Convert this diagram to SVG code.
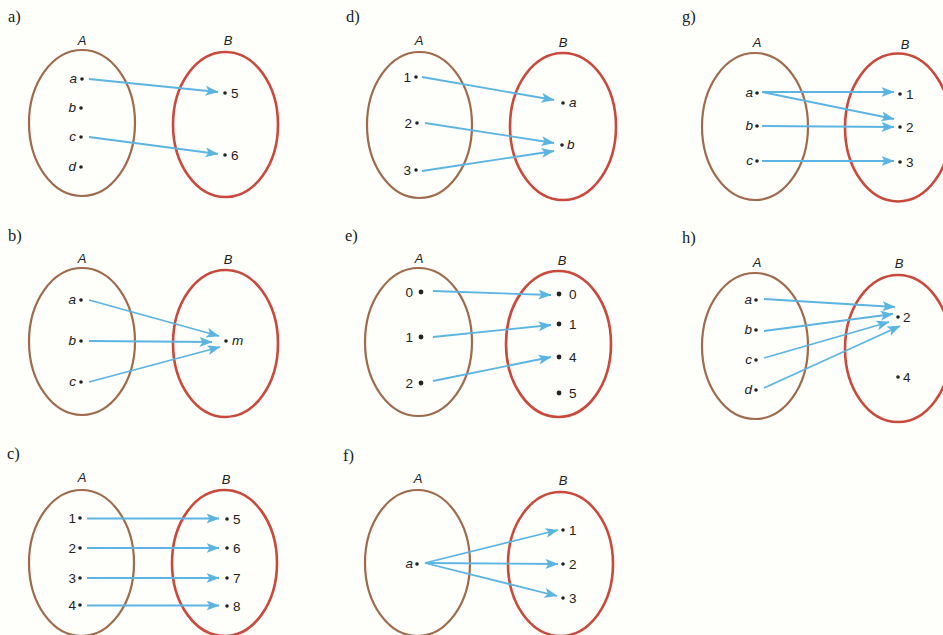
<svg xmlns="http://www.w3.org/2000/svg" width="943" height="635" viewBox="0 0 943 635">
<defs>
<style>
.bg{fill:#fefefa}
.setA{fill:none;stroke:#9e6b4c;stroke-width:2.2}
.setB{fill:none;stroke:#c94a3c;stroke-width:2.6}
.pl{font-family:"Liberation Serif",serif;font-size:16.5px;fill:#222}
.sl{font-family:"Liberation Sans",Arial,sans-serif;font-size:13px;font-style:italic;fill:#222;text-anchor:middle}
.el{font-family:"Liberation Sans",Arial,sans-serif;font-size:13.5px;fill:#222}
.it{font-style:italic}
.l{text-anchor:end}
.dot{fill:#222}
.arr{fill:none;stroke:#5bb4e2;stroke-width:1.8;marker-end:url(#ah)}
</style>
<marker id="ah" markerUnits="userSpaceOnUse" markerWidth="14" markerHeight="11" refX="12.5" refY="5" orient="auto">
<path d="M0,0 L13,5 L0,10 L3,5 z" fill="#5bb4e2"/>
</marker>
</defs>
<rect class="bg" x="0" y="0" width="943" height="635"/>

<!-- Panel a -->
<g id="panel-a">
<text class="pl" x="8" y="22">a)</text>
<g id="a-setA">
<text class="sl" x="82" y="45">A</text>
<ellipse class="setA" cx="82" cy="123" rx="53" ry="73"/>
<circle class="dot" cx="82" cy="79" r="1.8"/><text class="el it l" x="77" y="83">a</text>
<circle class="dot" cx="81" cy="108" r="1.8"/><text class="el it l" x="76" y="112">b</text>
<circle class="dot" cx="81" cy="137" r="1.8"/><text class="el it l" x="76" y="141">c</text>
<circle class="dot" cx="81" cy="167" r="1.8"/><text class="el it l" x="76" y="171">d</text>
</g>
<g id="a-setB">
<text class="sl" x="228" y="45">B</text>
<ellipse class="setB" cx="225.5" cy="124.5" rx="52.5" ry="72.5"/>
<circle class="dot" cx="225" cy="93" r="1.8"/><text class="el" x="231" y="97.5">5</text>
<circle class="dot" cx="225" cy="155" r="1.8"/><text class="el" x="231" y="159.5">6</text>
</g>
<g id="a-connectors">
<line class="arr" x1="89" y1="79" x2="218" y2="92"/>
<line class="arr" x1="89" y1="137" x2="218" y2="154"/>
</g>
</g>

<!-- Panel d -->
<g id="panel-d">
<text class="pl" x="346" y="22">d)</text>
<g id="d-setA">
<text class="sl" x="419" y="45">A</text>
<ellipse class="setA" cx="419.5" cy="125" rx="52.5" ry="73"/>
<circle class="dot" cx="416" cy="77" r="1.8"/><text class="el l" x="411" y="81.5">1</text>
<circle class="dot" cx="417" cy="123" r="1.8"/><text class="el l" x="412" y="127.5">2</text>
<circle class="dot" cx="416" cy="170" r="1.8"/><text class="el l" x="411" y="174.5">3</text>
</g>
<g id="d-setB">
<text class="sl" x="563" y="47">B</text>
<ellipse class="setB" cx="563" cy="126.5" rx="53" ry="73.5"/>
<circle class="dot" cx="563" cy="103" r="1.8"/><text class="el it" x="569" y="107">a</text>
<circle class="dot" cx="562" cy="145" r="1.8"/><text class="el it" x="567" y="149">b</text>
</g>
<g id="d-connectors">
<line class="arr" x1="422" y1="77" x2="554" y2="100"/>
<line class="arr" x1="425" y1="123" x2="554" y2="143"/>
<line class="arr" x1="422" y1="171" x2="554" y2="151"/>
</g>
</g>

<!-- Panel g -->
<g id="panel-g">
<text class="pl" x="682" y="22">g)</text>
<g id="g-setA">
<text class="sl" x="757" y="47">A</text>
<ellipse class="setA" cx="755" cy="126.5" rx="53" ry="73.5"/>
<circle class="dot" cx="757" cy="93" r="1.8"/><text class="el it l" x="753" y="97">a</text>
<circle class="dot" cx="757" cy="126" r="1.8"/><text class="el it l" x="753" y="130">b</text>
<circle class="dot" cx="757" cy="161" r="1.8"/><text class="el it l" x="753" y="165">c</text>
</g>
<g id="g-setB">
<text class="sl" x="905" y="49">B</text>
<ellipse class="setB" cx="898" cy="127.5" rx="53" ry="74"/>
<circle class="dot" cx="900" cy="94" r="1.8"/><text class="el" x="906" y="98.5">1</text>
<circle class="dot" cx="900" cy="127" r="1.8"/><text class="el" x="906" y="131.5">2</text>
<circle class="dot" cx="900" cy="162" r="1.8"/><text class="el" x="906" y="166.5">3</text>
</g>
<g id="g-connectors">
<line class="arr" x1="762" y1="92" x2="894" y2="92"/>
<line class="arr" x1="762" y1="92" x2="894" y2="119"/>
<line class="arr" x1="762" y1="126" x2="894" y2="127"/>
<line class="arr" x1="762" y1="161" x2="894" y2="161"/>
</g>
</g>

<!-- Panel b -->
<g id="panel-b">
<text class="pl" x="8" y="241">b)</text>
<g id="b-setA">
<text class="sl" x="82" y="263">A</text>
<ellipse class="setA" cx="82" cy="341.5" rx="53" ry="73.5"/>
<circle class="dot" cx="81" cy="300" r="1.8"/><text class="el it l" x="76" y="304">a</text>
<circle class="dot" cx="81" cy="341" r="1.8"/><text class="el it l" x="76" y="345">b</text>
<circle class="dot" cx="81" cy="382" r="1.8"/><text class="el it l" x="76" y="386">c</text>
</g>
<g id="b-setB">
<text class="sl" x="228" y="264">B</text>
<ellipse class="setB" cx="225.5" cy="343.5" rx="52.5" ry="73.5"/>
<circle class="dot" cx="226" cy="341" r="1.8"/><text class="el it" x="232" y="345">m</text>
</g>
<g id="b-connectors">
<line class="arr" x1="89" y1="300" x2="219" y2="336"/>
<line class="arr" x1="89" y1="341" x2="212" y2="342"/>
<line class="arr" x1="89" y1="382" x2="220" y2="347"/>
</g>
</g>

<!-- Panel e -->
<g id="panel-e">
<text class="pl" x="345" y="241">e)</text>
<g id="e-setA">
<text class="sl" x="419" y="263">A</text>
<ellipse class="setA" cx="418.5" cy="342" rx="53.5" ry="74"/>
<circle class="dot" cx="421" cy="292" r="2.4"/><text class="el l" x="413" y="297">0</text>
<circle class="dot" cx="421" cy="337" r="2.4"/><text class="el l" x="413" y="342">1</text>
<circle class="dot" cx="421" cy="383" r="2.4"/><text class="el l" x="413" y="388">2</text>
</g>
<g id="e-setB">
<text class="sl" x="562" y="265">B</text>
<ellipse class="setB" cx="558.5" cy="344" rx="52.5" ry="73"/>
<circle class="dot" cx="559" cy="294" r="2.4"/><text class="el" x="569" y="299">0</text>
<circle class="dot" cx="559" cy="324" r="2.4"/><text class="el" x="569" y="329">1</text>
<circle class="dot" cx="559" cy="357" r="2.4"/><text class="el" x="569" y="362">4</text>
<circle class="dot" cx="559" cy="393" r="2.4"/><text class="el" x="569" y="398">5</text>
</g>
<g id="e-connectors">
<line class="arr" x1="433" y1="291" x2="551" y2="295"/>
<line class="arr" x1="433" y1="337" x2="551" y2="325"/>
<line class="arr" x1="433" y1="381" x2="551" y2="357"/>
</g>
</g>

<!-- Panel h -->
<g id="panel-h">
<text class="pl" x="682" y="243">h)</text>
<g id="h-setA">
<text class="sl" x="757" y="267">A</text>
<ellipse class="setA" cx="755" cy="346" rx="53" ry="73"/>
<circle class="dot" cx="756" cy="300" r="1.8"/><text class="el it l" x="752" y="304">a</text>
<circle class="dot" cx="756" cy="330" r="1.8"/><text class="el it l" x="752" y="334">b</text>
<circle class="dot" cx="756" cy="360" r="1.8"/><text class="el it l" x="752" y="364">c</text>
<circle class="dot" cx="756" cy="390" r="1.8"/><text class="el it l" x="752" y="394">d</text>
</g>
<g id="h-setB">
<text class="sl" x="899" y="268">B</text>
<ellipse class="setB" cx="898" cy="348.5" rx="53" ry="73.5"/>
<circle class="dot" cx="898" cy="317" r="1.8"/><text class="el" x="903" y="321.5">2</text>
<circle class="dot" cx="898" cy="377" r="1.8"/><text class="el" x="903" y="381.5">4</text>
</g>
<g id="h-connectors">
<line class="arr" x1="764" y1="299" x2="895" y2="307"/>
<line class="arr" x1="764" y1="331" x2="893" y2="314"/>
<line class="arr" x1="764" y1="358" x2="889" y2="322"/>
<line class="arr" x1="764" y1="388" x2="900" y2="326"/>
</g>
</g>

<!-- Panel c -->
<g id="panel-c">
<text class="pl" x="7" y="459">c)</text>
<g id="c-setA">
<text class="sl" x="82" y="482">A</text>
<ellipse class="setA" cx="81.5" cy="563" rx="52.5" ry="73"/>
<circle class="dot" cx="80" cy="518" r="1.8"/><text class="el l" x="76" y="522.5">1</text>
<circle class="dot" cx="80" cy="548" r="1.8"/><text class="el l" x="76" y="552.5">2</text>
<circle class="dot" cx="80" cy="578" r="1.8"/><text class="el l" x="76" y="582.5">3</text>
<circle class="dot" cx="80" cy="605" r="1.8"/><text class="el l" x="76" y="609.5">4</text>
</g>
<g id="c-setB">
<text class="sl" x="226" y="484">B</text>
<ellipse class="setB" cx="224.5" cy="563" rx="52.5" ry="73"/>
<circle class="dot" cx="227" cy="519" r="1.8"/><text class="el" x="233" y="523.5">5</text>
<circle class="dot" cx="227" cy="548" r="1.8"/><text class="el" x="233" y="552.5">6</text>
<circle class="dot" cx="227" cy="578" r="1.8"/><text class="el" x="233" y="582.5">7</text>
<circle class="dot" cx="227" cy="606" r="1.8"/><text class="el" x="233" y="610.5">8</text>
</g>
<g id="c-connectors">
<line class="arr" x1="87" y1="518.5" x2="219" y2="518.5"/>
<line class="arr" x1="87" y1="548" x2="219" y2="548"/>
<line class="arr" x1="87" y1="578" x2="219" y2="578"/>
<line class="arr" x1="87" y1="605.5" x2="219" y2="605.5"/>
</g>
</g>

<!-- Panel f -->
<g id="panel-f">
<text class="pl" x="343" y="461">f)</text>
<g id="f-setA">
<text class="sl" x="418" y="483">A</text>
<ellipse class="setA" cx="417.5" cy="563" rx="52.5" ry="73"/>
<circle class="dot" cx="417" cy="564" r="1.8"/><text class="el it l" x="413" y="568">a</text>
</g>
<g id="f-setB">
<text class="sl" x="563" y="485">B</text>
<ellipse class="setB" cx="560.5" cy="564" rx="52.5" ry="72"/>
<circle class="dot" cx="563" cy="530" r="1.8"/><text class="el" x="569" y="534.5">1</text>
<circle class="dot" cx="563" cy="564" r="1.8"/><text class="el" x="569" y="568.5">2</text>
<circle class="dot" cx="563" cy="598" r="1.8"/><text class="el" x="569" y="602.5">3</text>
</g>
<g id="f-connectors">
<line class="arr" x1="425" y1="563" x2="558" y2="530"/>
<line class="arr" x1="425" y1="563" x2="558" y2="564"/>
<line class="arr" x1="425" y1="563" x2="557" y2="596"/>
</g>
</g>
</svg>
